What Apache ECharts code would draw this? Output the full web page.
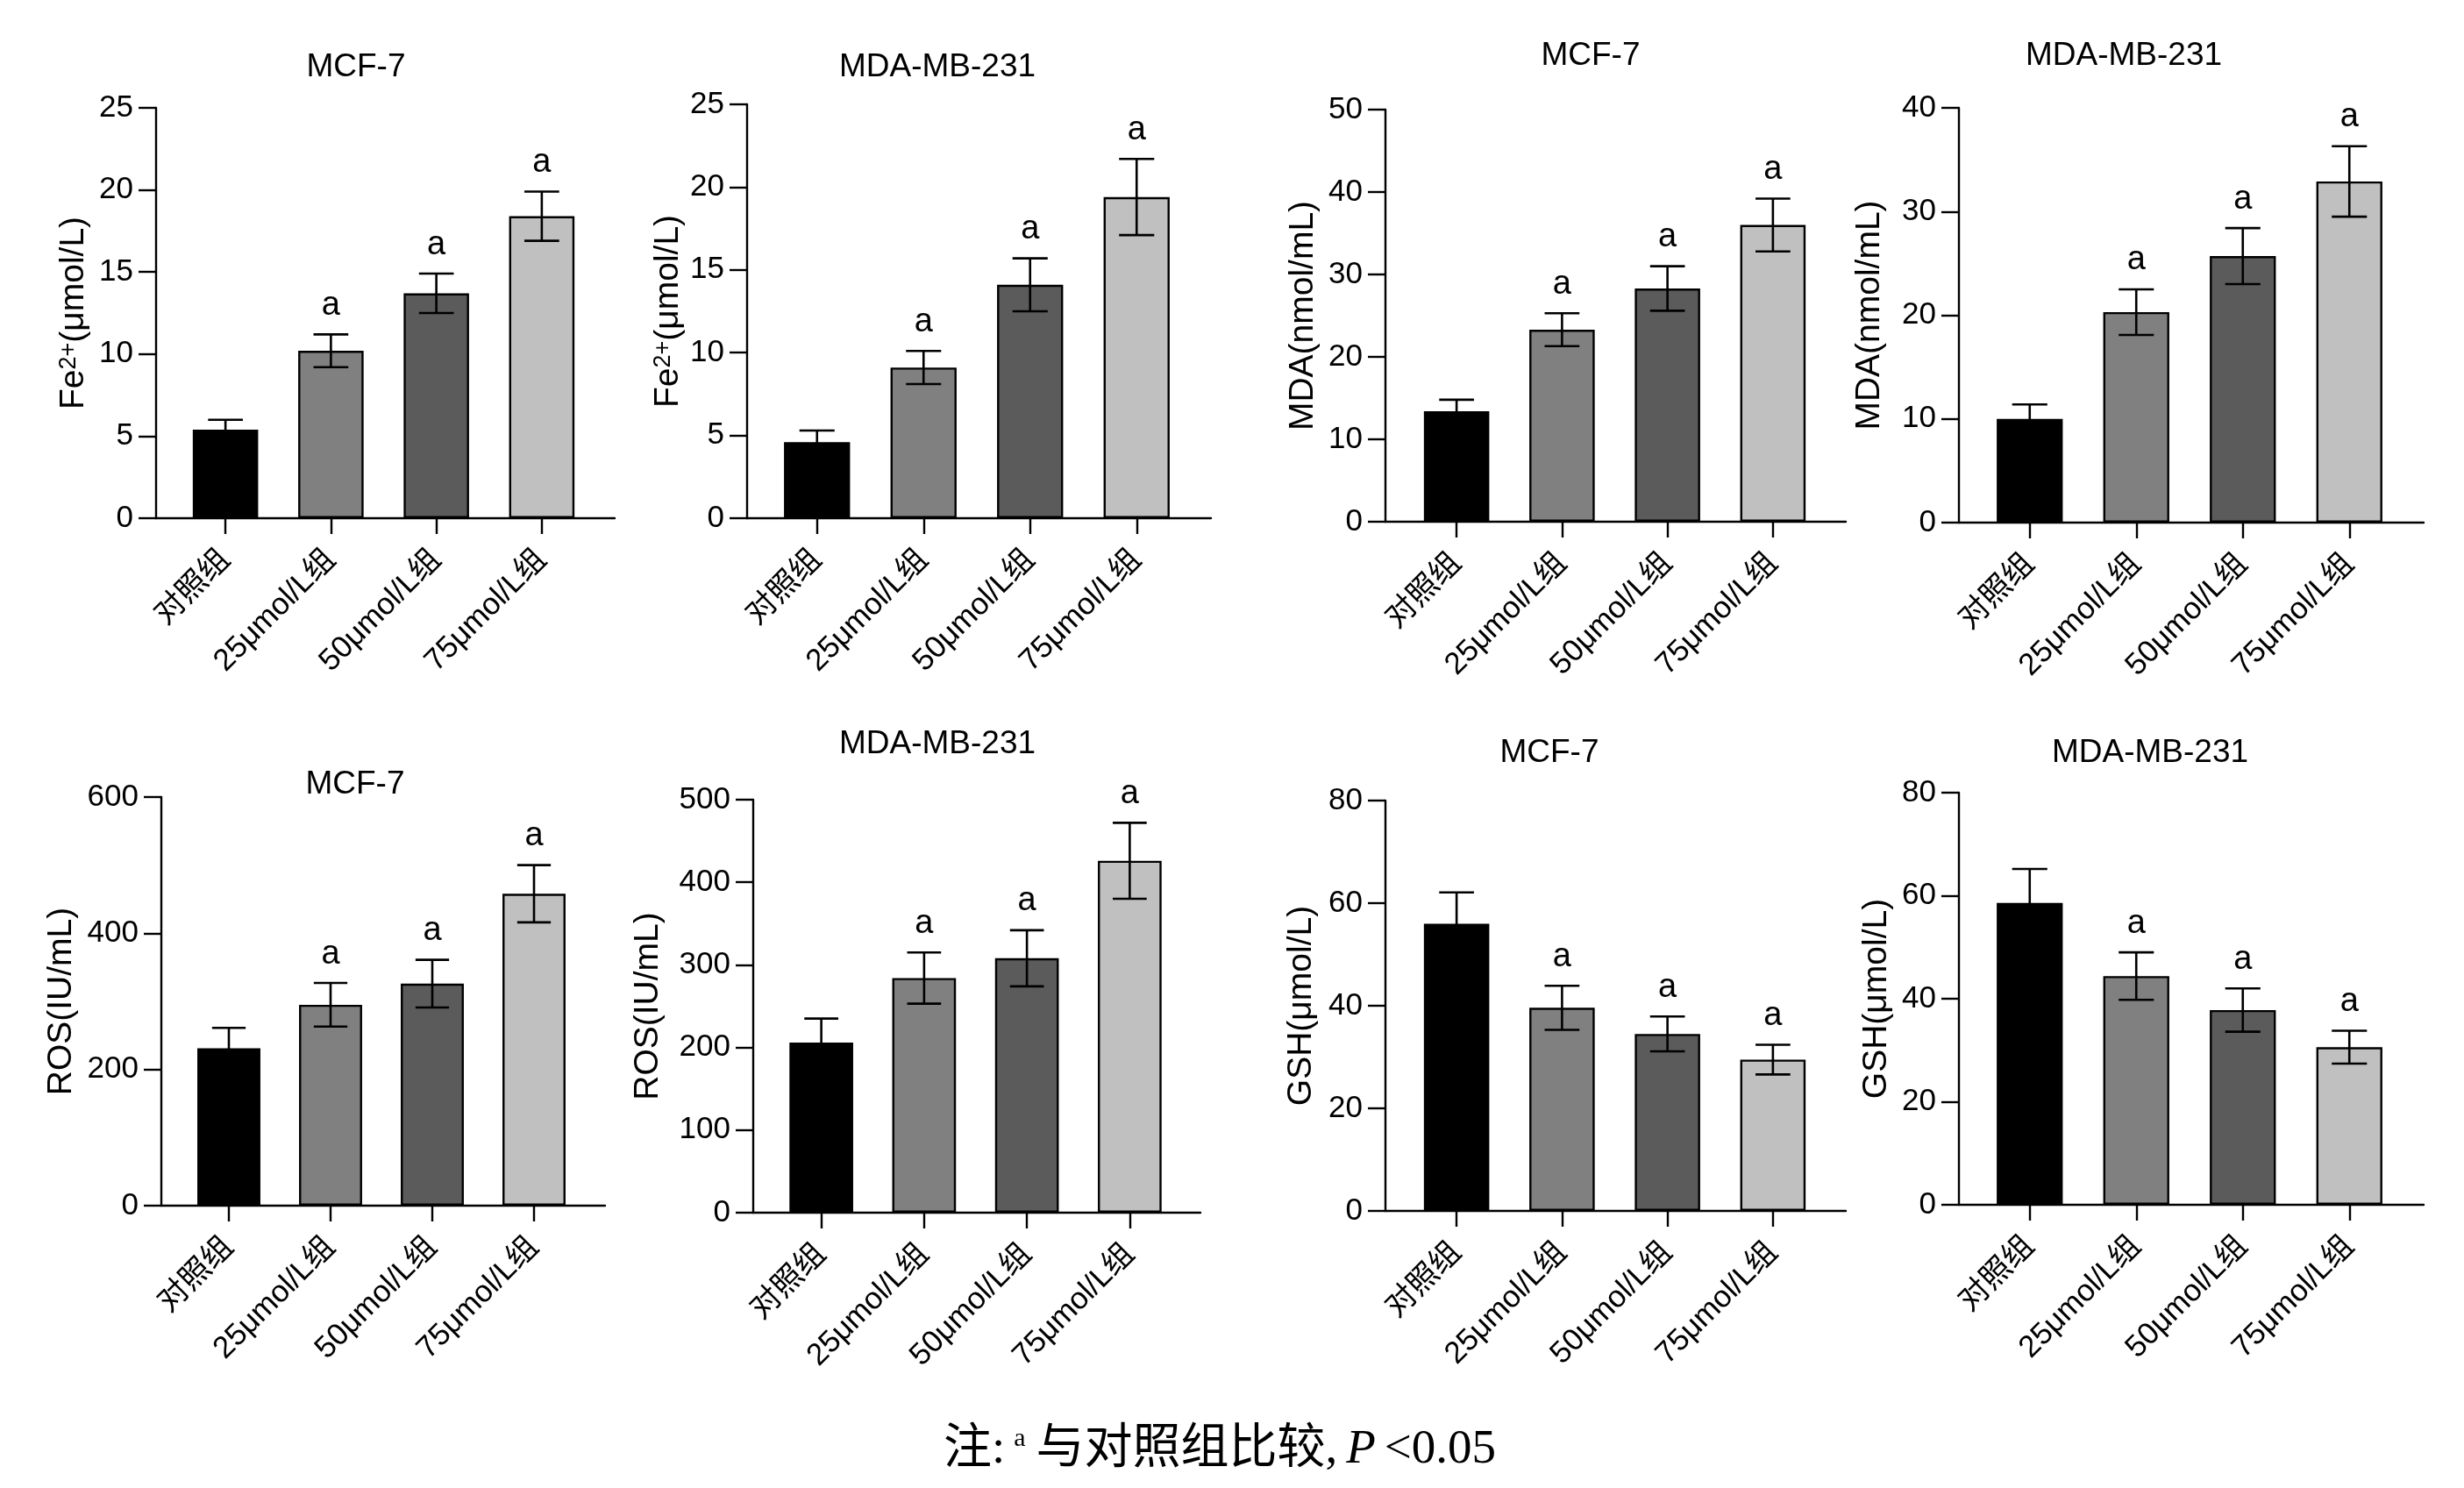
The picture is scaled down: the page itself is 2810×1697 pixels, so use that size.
<!DOCTYPE html>
<html>
<head>
<meta charset="utf-8">
<script src="https://cdn.jsdelivr.net/npm/echarts@6/dist/echarts.min.js"></script>
<style>
html,body{margin:0;padding:0;background:#fff;}
#chart{width:2810px;height:1697px;}
</style>
</head>
<body>
<div id="chart"></div>
<script>
// ---------- DATA ----------
const categories = ['对照组', '25μmol/L组', '50μmol/L组', '75μmol/L组'];
const sigMarks = ['', 'a', 'a', 'a'];

const feMCF7 = [5.4, 10.2, 13.7, 18.4];
const feMCF7Err = [0.6, 1.0, 1.2, 1.5];
const feMDA = [4.6, 9.1, 14.1, 19.4];
const feMDAErr = [0.7, 1.0, 1.6, 2.3];

const mdaMCF7 = [13.4, 23.3, 28.3, 36.0];
const mdaMCF7Err = [1.4, 2.0, 2.7, 3.2];
const mdaMDA = [10.0, 20.3, 25.7, 32.9];
const mdaMDAErr = [1.4, 2.2, 2.7, 3.4];

const rosMCF7 = [231, 295, 326, 458];
const rosMCF7Err = [30, 32, 35, 42];
const rosMDA = [206, 284, 308, 426];
const rosMDAErr = [29, 31, 34, 46];

const gshMCF7 = [56.0, 39.6, 34.5, 29.5];
const gshMCF7Err = [6.1, 4.3, 3.4, 2.9];
const gshMDA = [58.6, 44.4, 37.8, 30.6];
const gshMDAErr = [6.6, 4.6, 4.2, 3.2];

const yTicks = {fe: [25, 5], mdaMCF7: [50, 10], mdaMDA: [40, 10], rosMCF7: [600, 200], rosMDA: [500, 100], gsh: [80, 20]};
const titles = ['MCF-7', 'MDA-MB-231'];
const footnote = ['注:', 'a', '与对照组比较,', 'P', '<0.05'];

// ---------- STYLE / LAYOUT ----------
const W = 2810, H = 1697;
const barColors = ['#000000', '#808080', '#5b5b5b', '#c0c0c0'];
const LAT = "'Liberation Sans','Noto Sans CJK SC',sans-serif";
const feName = '{b|Fe}{s|2+}{b|(μmol/L)}';

const panels = [
  {t: titles[0], name: feName, mean: feMCF7, err: feMCF7Err, yt: yTicks.fe, ax: 178, end: 701, bl: 197, br: 678, top: 123, zero: 591, tx: 406, ty: 77, gap: 74},
  {t: titles[1], name: feName, mean: feMDA, err: feMDAErr, yt: yTicks.fe, ax: 852, end: 1381, bl: 871, br: 1357, top: 119, zero: 591, tx: 1069, ty: 77, gap: 70},
  {t: titles[0], name: 'MDA(nmol/mL)', mean: mdaMCF7, err: mdaMCF7Err, yt: yTicks.mdaMCF7, ax: 1580, end: 2105, bl: 1601, br: 2082, top: 125, zero: 595, tx: 1814, ty: 64, gap: 74},
  {t: titles[1], name: 'MDA(nmol/mL)', mean: mdaMDA, err: mdaMDAErr, yt: yTicks.mdaMDA, ax: 2234, end: 2764, bl: 2254, br: 2740, top: 123, zero: 596, tx: 2422, ty: 64, gap: 82},
  {t: titles[0], name: 'ROS(IU/mL)', mean: rosMCF7, err: rosMCF7Err, yt: yTicks.rosMCF7, ax: 184, end: 690, bl: 203, br: 667, top: 909, zero: 1375, tx: 405, ty: 895, gap: 94},
  {t: titles[1], name: 'ROS(IU/mL)', mean: rosMDA, err: rosMDAErr, yt: yTicks.rosMDA, ax: 859, end: 1369, bl: 878, br: 1347, top: 912, zero: 1383, tx: 1069, ty: 849, gap: 100},
  {t: titles[0], name: 'GSH(μmol/L)', mean: gshMCF7, err: gshMCF7Err, yt: yTicks.gsh, ax: 1580, end: 2105, bl: 1601, br: 2082, top: 913, zero: 1381, tx: 1767, ty: 859, gap: 76},
  {t: titles[1], name: 'GSH(μmol/L)', mean: gshMDA, err: gshMDAErr, yt: yTicks.gsh, ax: 2234, end: 2764, bl: 2254, br: 2740, top: 904, zero: 1374, tx: 2452, ty: 859, gap: 74}
];

const grid = [], xAxis = [], yAxis = [], series = [], graphic = [];
const lineStyle = {color: '#000', width: 2.4};

panels.forEach((p, k) => {
  const gA = grid.length;
  grid.push({left: p.ax, width: p.end - p.ax, top: p.top, height: p.zero - p.top});
  grid.push({left: p.bl, width: p.br - p.bl, top: p.top, height: p.zero - p.top});
  // grid A : frame axes
  xAxis.push({gridIndex: gA, type: 'value', min: 0, max: 1, axisLine: {show: true, lineStyle}, axisTick: {show: false}, axisLabel: {show: false}, splitLine: {show: false}});
  yAxis.push({gridIndex: gA, type: 'value', min: 0, max: p.yt[0], interval: p.yt[1],
    axisLine: {show: true, lineStyle}, axisTick: {show: true, length: 20, lineStyle},
    axisLabel: {color: '#000', fontSize: 35, fontFamily: LAT, margin: 26},
    splitLine: {show: false},
    name: p.name, nameLocation: 'middle', nameGap: p.gap,
    nameTextStyle: {color: '#000', fontSize: 39, fontFamily: LAT,
      rich: {b: {fontSize: 39, fontFamily: LAT, color: '#000'}, s: {fontSize: 27, fontFamily: LAT, color: '#000', verticalAlign: 'top', lineHeight: 24}}}
  });
  // grid B : bars
  xAxis.push({gridIndex: gA + 1, type: 'category', data: categories, boundaryGap: true,
    axisLine: {show: false}, axisTick: {show: true, alignWithLabel: true, length: 18, lineStyle},
    axisLabel: {interval: 0, rotate: 45, color: '#000', fontSize: 35, fontFamily: LAT, margin: 42},
    splitLine: {show: false}});
  yAxis.push({gridIndex: gA + 1, type: 'value', min: 0, max: p.yt[0], show: false, splitLine: {show: false}});

  series.push({
    type: 'bar', xAxisIndex: gA + 1, yAxisIndex: gA + 1, barWidth: '62%',
    data: p.mean.map((v, i) => ({value: v, itemStyle: {color: barColors[i], borderColor: '#000', borderWidth: 2.4}})),
    z: 2
  });
  const errData = p.mean.map((v, i) => [i, v, p.err[i]]);
  series.push({
    type: 'custom', xAxisIndex: gA + 1, yAxisIndex: gA + 1, z: 5, clip: false,
    data: errData,
    renderItem: function (params, api) {
      const x = api.value(0), m = api.value(1), e = api.value(2);
      const hi = api.coord([x, m + e]);
      const lo = api.coord([x, m - e]);
      const cap = api.size([1, 0])[0] * 0.165;
      const ls = {stroke: '#000', lineWidth: 2.6};
      const ch = [
        {type: 'line', shape: {x1: hi[0], y1: hi[1], x2: lo[0], y2: lo[1]}, style: ls},
        {type: 'line', shape: {x1: hi[0] - cap, y1: hi[1], x2: hi[0] + cap, y2: hi[1]}, style: ls},
        {type: 'line', shape: {x1: lo[0] - cap, y1: lo[1], x2: lo[0] + cap, y2: lo[1]}, style: ls}
      ];
      const s = sigMarks[params.dataIndex];
      if (s) {
        ch.push({type: 'text', x: hi[0], y: hi[1] - 14, style: {text: s, fill: '#000', font: '38px ' + LAT, align: 'center', verticalAlign: 'bottom'}});
      }
      return {type: 'group', children: ch};
    }
  });
  graphic.push({type: 'text', x: p.tx, y: p.ty, style: {text: p.t, fill: '#000', font: '37px ' + LAT, align: 'center', verticalAlign: 'middle'}});
});

const SER = "'Liberation Serif','Noto Sans CJK SC',serif";
graphic.push({
  type: 'text', x: 1391, y: 1654,
  style: {
    text: '{n|' + footnote[0] + '}{s|' + footnote[1] + '}{n|' + footnote[2] + '}{i|' + footnote[3] + '}{n|' + footnote[4] + '}',
    align: 'center', verticalAlign: 'middle', fill: '#000',
    rich: {
      n: {fontSize: 55, fontFamily: SER, fill: '#000'},
      s: {fontSize: 30, fontFamily: SER, fill: '#000', verticalAlign: 'top', lineHeight: 30, padding: [0, 12, 0, 10]},
      i: {fontSize: 55, fontFamily: SER, fontStyle: 'italic', fill: '#000', padding: [0, 10, 0, 10]}
    }
  }
});

const chart = echarts.init(document.getElementById('chart'), null, {renderer: 'canvas'});
chart.setOption({
  backgroundColor: '#fff',
  animation: false,
  grid, xAxis, yAxis, series, graphic
});
</script>
</body>
</html>
